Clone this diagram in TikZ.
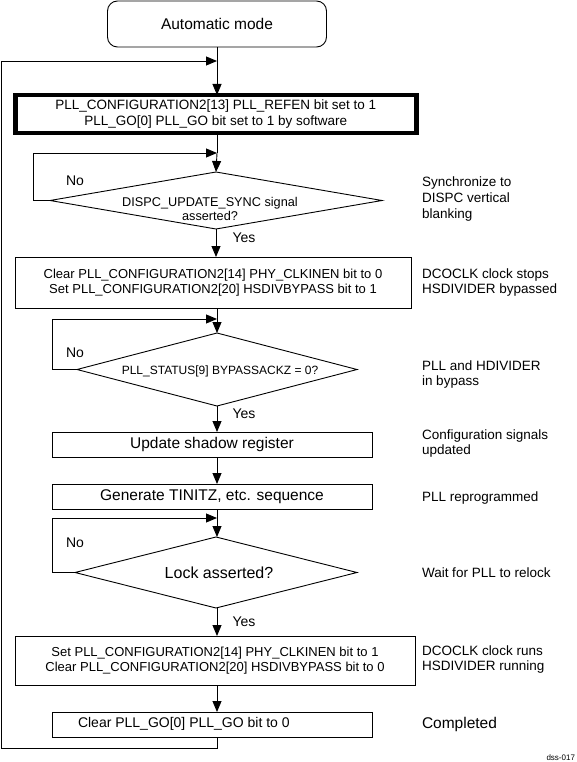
\documentclass[tikz,border=0pt]{standalone}
\usepackage{fontspec}
\setmainfont{Liberation Sans}
\usetikzlibrary{arrows.meta,shapes.geometric}
\begin{document}
\begin{tikzpicture}[x=1pt,y=-1pt,
  every node/.style={inner sep=0pt, outer sep=0pt},
  box/.style={draw, line width=0.9pt, rectangle},
  dia/.style={draw, line width=0.9pt, diamond, inner sep=0pt},
  txt/.style={align=center, font=\fontsize{13}{15}\selectfont},
  big/.style={font=\fontsize{15.5}{17}\selectfont},
  lbl/.style={anchor=west, align=left, font=\fontsize{13.5}{15.5}\selectfont},
  yn/.style={font=\fontsize{14}{16}\selectfont},
  conn/.style={line width=0.9pt},
  arr/.style={line width=0.9pt, -{Triangle[length=11pt,width=9pt]}}
]
\useasboundingbox (0,0) rectangle (576,762);

% nodes
\node[box, rounded corners=10pt, minimum width=219pt, minimum height=46pt, big] (auto) at (217,24) {Automatic mode};
\node[draw, line width=4.5pt, minimum width=401pt, minimum height=38pt, txt, font=\fontsize{13.5}{16}\selectfont] (b1) at (215.75,114)
  {PLL\_CONFIGURATION2[13] PLL\_REFEN bit set to 1\\PLL\_GO[0] PLL\_GO bit set to 1 by software};
\node[dia, minimum width=332pt, minimum height=57pt] (d1) at (216,200.5) {};
\node[txt, font=\fontsize{12.7}{14.5}\selectfont] (d1t) at (210,209) {DISPC\_UPDATE\_SYNC signal\\asserted?};
\node[box, minimum width=396pt, minimum height=51pt, txt] (b2) at (213,282.5)
  {Clear PLL\_CONFIGURATION2[14] PHY\_CLKINEN bit to 0\\Set PLL\_CONFIGURATION2[20] HSDIVBYPASS bit to 1};
\node[dia, minimum width=280pt, minimum height=73pt] (d2) at (217,369.5) {};
\node[font=\fontsize{12}{14}\selectfont] (d2t) at (220,371) {PLL\_STATUS[9] BYPASSACKZ = 0?};
\node[box, minimum width=320pt, minimum height=25pt, big] (b3) at (212,444.5) {Update shadow register};
\node[box, minimum width=320pt, minimum height=25pt, big] (b4) at (212,496.5) {Generate TINITZ, etc. sequence};
\node[dia, minimum width=282pt, minimum height=71pt] (d3) at (216,572.5) {};
\node[big, font=\fontsize{16}{18}\selectfont] (d3t) at (219,573) {Lock asserted?};
\node[box, minimum width=400pt, minimum height=49pt, txt] (b5) at (215,660.5)
  {Set PLL\_CONFIGURATION2[14] PHY\_CLKINEN bit to 1\\Clear PLL\_CONFIGURATION2[20] HSDIVBYPASS bit to 0};
\node[box, minimum width=320pt, minimum height=25pt] (b6) at (212,724.5) {};
\node[anchor=west, font=\fontsize{14}{16}\selectfont] (b6t) at (78,724) {Clear PLL\_GO[0] PLL\_GO bit to 0};

% yes / no
\node[yn] (no1) at (75,181) {No};
\node[yn] (no2) at (75,353) {No};
\node[yn] (no3) at (75,543) {No};
\node[yn] (yes1) at (244,238) {Yes};
\node[yn] (yes2) at (244,414) {Yes};
\node[yn] (yes3) at (244,622) {Yes};

% right labels
\node[lbl, font=\fontsize{13.5}{16}\selectfont] (r1) at (422,199) {Synchronize to\\DISPC vertical\\blanking};
\node[lbl] (r2) at (422,282.5) {DCOCLK clock stops\\HSDIVIDER bypassed};
\node[lbl] (r3) at (422,374.5) {PLL and HDIVIDER\\in bypass};
\node[lbl] (r4) at (422,443.5) {Configuration signals\\updated};
\node[lbl] (r5) at (422,498) {PLL reprogrammed};
\node[lbl] (r6) at (422,573) {Wait for PLL to relock};
\node[lbl] (r7) at (422,659.5) {DCOCLK clock runs\\HSDIVIDER running};
\node[lbl, big] (r8) at (422,724) {Completed};
\node[anchor=east, font=\fontsize{8}{9}\selectfont] (tag) at (575,758) {dss-017};

% junction coordinates
\coordinate (j0) at (217,61);
\coordinate (j1) at (217,153);
\coordinate (j2) at (217,319);
\coordinate (j3) at (217,518);
\coordinate (c0) at (1.5,748);

% connectors
\draw[conn] (auto.south) -- (j0);
\draw[arr] (j0) -- (j0 |- b1.north);
\draw[conn] (j0 |- b1.south) -- (j1);
\draw[arr] (j1) -- (d1.north);
\draw[arr] (d1.west) -- ++(-17,0) |- (j1);
\draw[arr] (d1.south) -- (d1.south |- b2.north);
\draw[conn] (j2 |- b2.south) -- (j2);
\draw[arr] (j2) -- (d2.north);
\draw[arr] (d2.west) -- ++(-25,0) |- (j2);
\draw[arr] (d2.south) -- (d2.south |- b3.north);
\draw[arr] (j2 |- b3.south) -- (j2 |- b4.north);
\draw[conn] (j3 |- b4.south) -- (j3);
\draw[arr] (j3) -- (j3 |- d3.north);
\draw[arr] (d3.west) -- ++(-23,0) |- (j3);
\draw[arr] (j3 |- d3.south) -- (j3 |- b5.north);
\draw[arr] (j3 |- b5.south) -- (j3 |- b6.north);
\draw[arr] (j3 |- b6.south) |- (c0) |- (j0);
\end{tikzpicture}
\end{document}
